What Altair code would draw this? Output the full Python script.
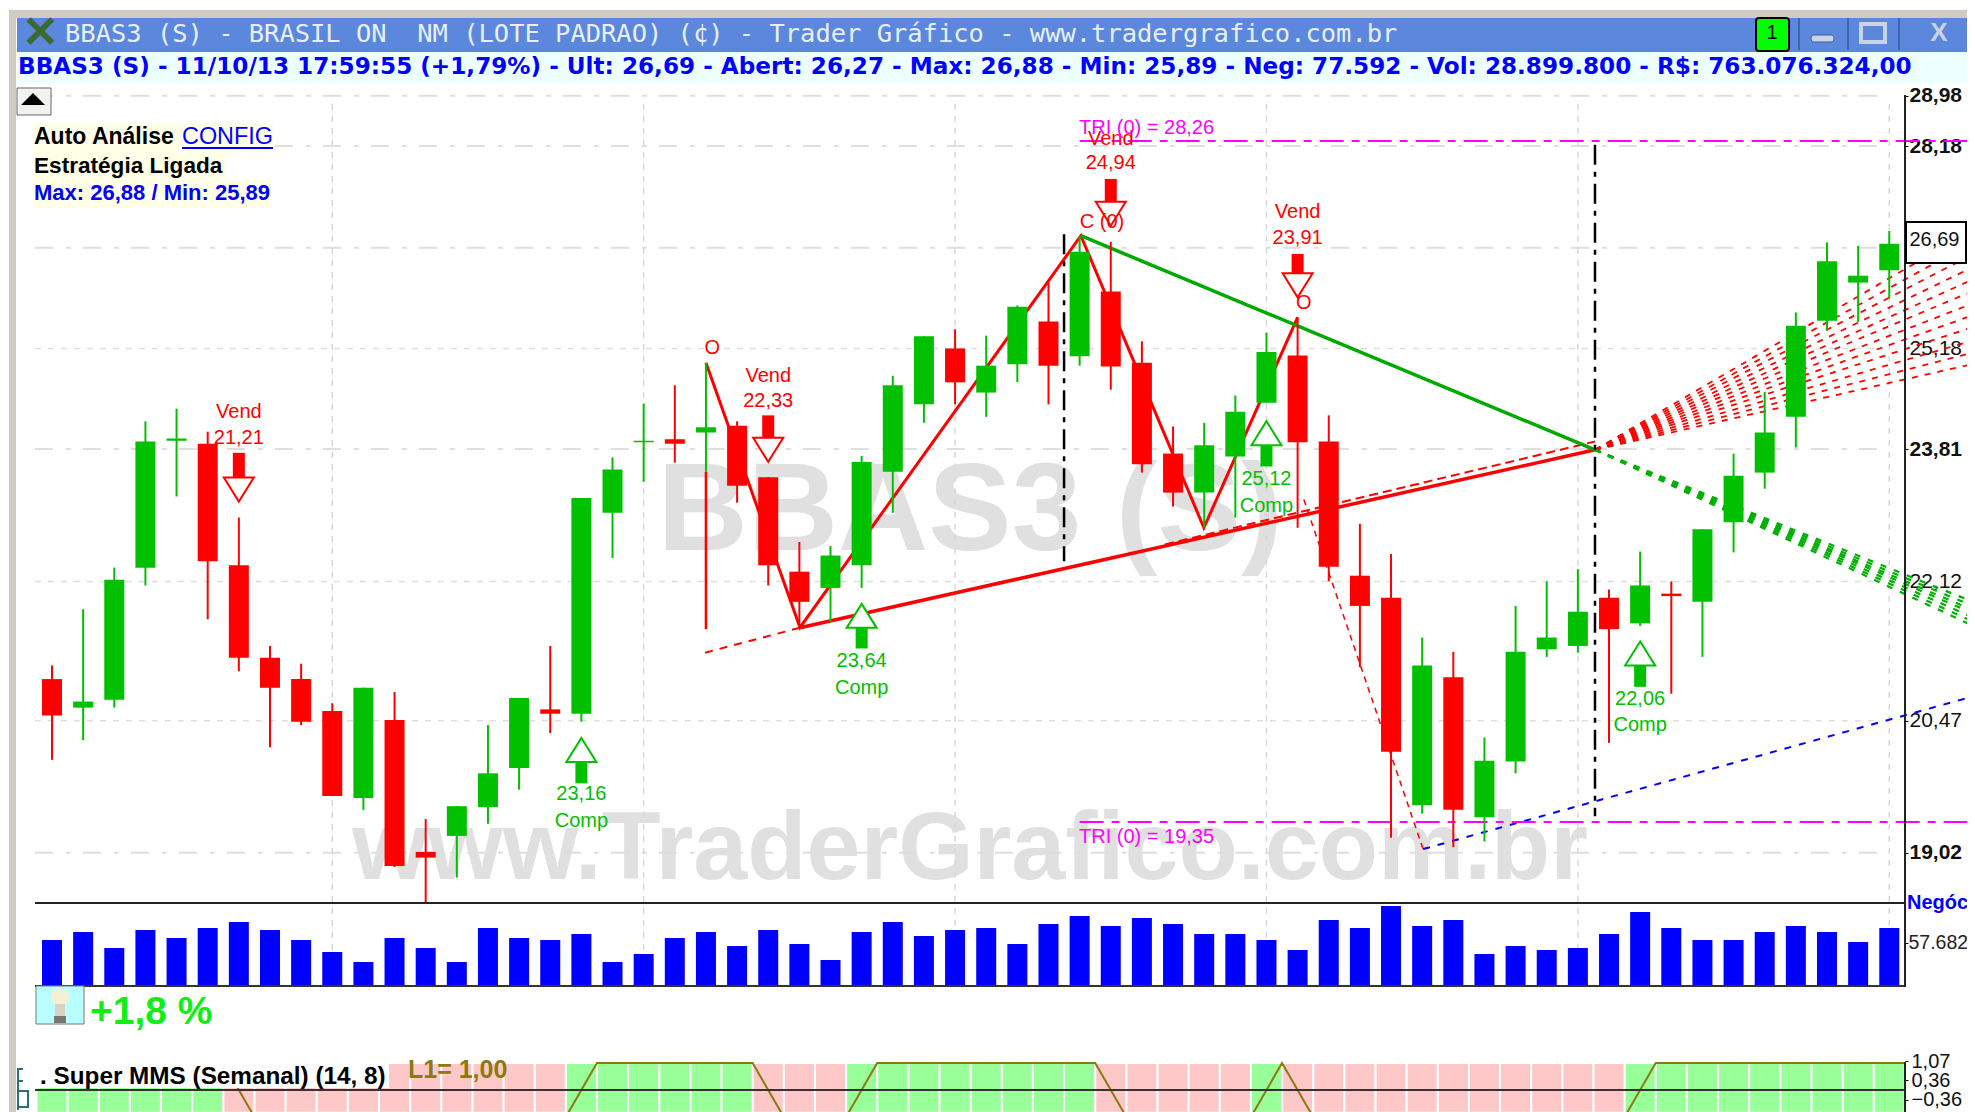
import altair as alt
import pandas as pd

# ---------- data ----------
OPEN = [20.95,20.62,20.71,22.29,23.92,23.88,22.32,21.20,20.95,20.58,19.61,20.48,19.03,19.20,19.51,19.94,20.60,20.55,22.98,23.90,
        23.94,24.03,24.12,23.44,22.24,22.04,22.32,23.51,24.41,25.18,24.57,24.96,25.56,25.07,25.99,24.98,23.75,23.24,23.71,24.43,
        25.08,23.91,22.19,21.92,19.53,20.97,19.40,20.01,21.30,21.34,21.92,21.61,21.97,21.87,22.86,23.50,24.24,25.57,26.12,26.30]
HIGH = [21.11,21.78,22.29,24.18,24.35,24.04,22.92,21.34,21.13,20.67,20.85,20.80,19.38,19.52,20.42,20.73,21.34,23.17,23.70,24.42,
        24.67,24.98,24.18,23.44,22.61,22.56,23.72,24.80,25.35,25.45,25.36,25.79,26.12,26.80,26.72,25.28,24.11,24.16,24.53,25.40,
        25.62,24.26,22.84,22.46,21.44,21.27,20.28,21.82,22.12,22.27,22.02,22.49,22.12,22.77,23.75,24.58,25.69,26.71,26.66,26.88]
LOW  = [20.03,20.25,20.62,22.07,23.19,21.66,21.04,20.17,20.42,19.63,19.48,18.87,18.49,18.76,19.33,19.70,20.33,20.46,22.41,23.38,
        23.63,23.51,23.11,22.07,21.56,21.62,22.04,22.98,24.16,24.41,24.24,24.71,24.41,24.94,24.61,23.50,23.06,22.79,22.92,24.43,
        22.79,22.12,21.09,19.18,19.44,19.08,19.14,19.88,21.21,21.26,20.22,21.58,20.78,21.21,22.48,23.29,23.83,25.43,25.55,25.89]
CLOSE= [20.53,20.69,22.14,23.91,23.95,22.37,21.20,20.85,20.46,19.63,20.85,18.88,18.97,19.52,19.88,20.73,20.55,23.17,23.54,23.92,
        23.88,24.10,23.33,22.32,21.87,22.44,23.64,24.67,25.35,24.71,24.94,25.77,24.94,26.57,24.93,23.61,23.24,23.86,24.31,25.13,
        23.90,22.30,21.82,20.12,21.11,19.48,20.02,21.27,21.44,21.75,21.54,22.07,21.94,22.77,23.46,24.03,25.50,26.43,26.22,26.69]
TRADES = [61700,72400,51000,75100,64400,77800,85800,75100,61700,45600,32200,64400,51000,32200,77800,64400,61700,69700,32200,42900,
          64400,72400,53600,75100,56300,34900,72400,85800,67000,75100,77800,56300,83100,93900,80500,91200,83100,69700,69700,61700,48300,
          88500,77800,107300,80500,88500,42900,53600,48300,51000,69700,99200,77800,61700,61700,72400,80500,72400,59000,77800]
SUPER_MMS = [1,1,1,1,1,1,-1,-1,-1,-1,-1,-1,-1,-1,-1,-1,-1,1,1,1,1,1,1,-1,-1,-1,1,1,1,1,1,1,1,1,-1,-1,-1,-1,-1,1,
             -1,-1,-1,-1,-1,-1,-1,-1,-1,-1,-1,1,1,1,1,1,1,1,1,1]
DATE_IDX = [9,19,29,39,49,59]
DATE_LABELS = ["22/10/12","02/01/13","11/03/13","20/05/13","29/07/13","07/10/13"]
PRICE_MAJOR = [28.98,28.18,26.63,23.81,19.02]
PRICE_MINOR = [25.18,22.12,20.47]
PRICE_TICKS = [28.98,28.18,26.63,25.18,23.81,22.12,20.47,19.02]
BOLD_TICKS = [28.98,28.18,23.81,19.02]
MMS_TICKS = [1.07,0.36,-0.36,-1.07]
TRADES_TICK = [57682]

ZIG_X = [21.0,24.02,33.04,36.99,40.0]
ZIG_Y = [24.98,21.56,26.81,22.79,25.62]
SUPPORT_X = [24.05,49.55]; SUPPORT_Y = [21.56,23.80]
SUP_EXT_X = [20.97,24.05]; SUP_EXT_Y = [21.26,21.56]
UPPER_X = [35.74,49.55]; UPPER_Y = [22.58,23.91]
RESIST_X = [33.04,49.55]; RESIST_Y = [26.81,23.80]
DROP_X = [40.2,44.03]; DROP_Y = [23.15,19.06]
BLUE_X = [44.03,61.5]; BLUE_Y = [19.06,20.73]
APEX_X, APEX_Y, FAN_END_X = 49.55, 23.80, 61.75
GREEN_FAN = [21.86,21.81,21.76,21.72,21.67,21.62,21.57]
RED_FAN = [26.92,26.73,26.55,26.36,26.18,26.01,25.83,25.66,25.49,25.30,25.13,24.97]
TRI_HI, TRI_LO = 28.26, 19.35

SIGNALS = [  # kind, candle, value text, word y, value y, shaft a, shaft b, triangle y
    ("Vend",6,"21,21",24.30,23.95,23.76,23.44,23.28),
    ("Vend",23,"22,33",24.80,24.46,24.26,23.96,23.80),
    ("Vend",34,"24,94",28.29,27.91,27.67,27.32,27.14),
    ("Vend",40,"23,91",27.16,26.77,26.54,26.22,26.08),
    ("Comp",17,"23,16",19.36,19.65,20.02,19.77,20.14),
    ("Comp",26,"23,64",20.85,21.16,21.57,21.31,21.70),
    ("Comp",39,"25,12",23.07,23.42,23.87,23.58,24.02),
    ("Comp",51,"22,06",20.42,20.72,21.12,20.86,21.25),
]

RED, GREEN, BLUE, MAGENTA = "#ff0000", "#00c000", "#0000ff", "#ff00ff"
SANS = "Liberation Sans"
ONE = pd.DataFrame({"v": [0]})

XS = alt.Scale(domain=[-1.413, 59.505], nice=False, zero=False, padding=0)
YS = alt.Scale(type="log", domain=[16.54, 30.43], nice=False)
VS = alt.Scale(domain=[-158238, 1311498], nice=False, zero=False)
MS = alt.Scale(domain=[-0.5185, 40.07], nice=False, zero=False)

def X(f): return alt.X(f, type="quantitative", scale=XS, axis=None, title=None)
def Y(f, s=YS): return alt.Y(f, type="quantitative", scale=s, axis=None, title=None)

def box(x1, y1, x2, y2, color, **kw):
    return alt.Chart(ONE).mark_rect(color=color, **kw).encode(
        x=alt.value(x1-8), x2=alt.value(x2-8), y=alt.value(y1-8), y2=alt.value(y2-8))

def label(x, y, s, size, color="black", font=SANS, weight="normal", align="left"):
    return alt.Chart(ONE).mark_text(text=s, fontSize=size, color=color, font=font, fontWeight=weight,
                                    align=align, baseline="middle").encode(x=alt.value(x-8), y=alt.value(y-8))

def seg(xs, ys, color, width, dash=None):
    kw = {"strokeDash": dash} if dash else {}
    return alt.Chart(pd.DataFrame({"x": xs, "y": ys})).mark_line(color=color, strokeWidth=width, **kw).encode(
        x=X("x"), y=Y("y"))

def ptext(x, y, s, size, color, align="center"):
    return alt.Chart(pd.DataFrame({"x": [x], "y": [y]})).mark_text(
        text=s, fontSize=size, color=color, font=SANS, align=align, baseline="middle").encode(x=X("x"), y=Y("y"))

L = []
# window chrome
L += [box(9, 10, 1975, 18, "#d0ccc4"), box(9, 10, 16, 1112, "#d0ccc4"),
      box(17, 18, 1975, 52, "#5b88dc"), box(17, 52, 1975, 83, "#eeffff")]

# watermarks
L.append(alt.Chart(pd.DataFrame({"x":[29.48],"y":[22.51]})).mark_text(text="BBAS3 (S)", fontSize=125, font=SANS,
         fontWeight="bold", color="#e0e0e0", baseline="alphabetic", align="center").encode(x=X("x"), y=Y("y")))
L.append(alt.Chart(pd.DataFrame({"x":[29.48],"y":[18.74]})).mark_text(text="www.TraderGrafico.com.br", fontSize=97, font=SANS,
         fontWeight="bold", color="#e0e0e0", baseline="alphabetic", align="center").encode(x=X("x"), y=Y("y")))

# grid
L.append(alt.Chart(pd.DataFrame({"a":[-0.55]*5,"b":[58.7]*5,"y":PRICE_MAJOR})).mark_rule(color="#dedede", strokeWidth=2,
         strokeDash=[18,13,5,12]).encode(x=X("a"), x2="b:Q", y=Y("y")))
L.append(alt.Chart(pd.DataFrame({"a":[-0.55]*3,"b":[58.7]*3,"y":PRICE_MINOR})).mark_rule(color="#dedede", strokeWidth=1.5,
         strokeDash=[6,7]).encode(x=X("a"), x2="b:Q", y=Y("y")))
L.append(alt.Chart(pd.DataFrame({"x":DATE_IDX,"a":[28.85]*6,"b":[17.67]*6})).mark_rule(color="#d8d8d8", strokeWidth=1.5,
         strokeDash=[6,6]).encode(x=X("x"), y=Y("a"), y2="b:Q"))

# price axis carrier
fmt = "replace(format(datum.value,'.2f'),'.',',')"
bold_test = "indexof(" + str(BOLD_TICKS) + ",datum.value)>=0"
L.append(alt.Chart(pd.DataFrame({"y":PRICE_TICKS})).mark_tick(opacity=0).encode(
    y=alt.Y("y:Q", scale=YS, title=None, axis=alt.Axis(orient="right", values=PRICE_TICKS, domain=False, grid=False,
        tickSize=3, tickColor="black", labelExpr="datum.value==26.63?'':"+fmt, labelFontSize=21, labelFont=SANS,
        labelColor="#111111", labelPadding=1, labelOverlap=False, labelFlush=False,
        labelFontWeight={"condition":{"test":bold_test,"value":"bold"},"value":"normal"}))))

# trend and projection lines
for end in RED_FAN:
    L.append(seg([APEX_X, FAN_END_X],[APEX_Y,end],RED,1.8,[6,7]))
for end in GREEN_FAN:
    L.append(seg([APEX_X, FAN_END_X],[APEX_Y,end],"#00b000",2.2,[6,8]))
L.append(seg(BLUE_X,BLUE_Y,BLUE,2,[7,8]))
L.append(seg(DROP_X,DROP_Y,RED,1.5,[6,5]))
L.append(seg(SUP_EXT_X,SUP_EXT_Y,RED,2,[8,7]))
L.append(seg(UPPER_X,UPPER_Y,RED,2,[9,5]))
L.append(seg([33,FAN_END_X],[TRI_HI,TRI_HI],MAGENTA,2,[24,8,8,8]))
L.append(seg([33,FAN_END_X],[TRI_LO,TRI_LO],MAGENTA,2,[24,8,8,8]))
L.append(seg(ZIG_X,ZIG_Y,RED,3))
L.append(seg(SUPPORT_X,SUPPORT_Y,RED,3.5))
L.append(seg(RESIST_X,RESIST_Y,"#00a800",3.5))
L.append(alt.Chart(pd.DataFrame({"x":[32.5,49.55],"a":[26.83,28.2],"b":[22.37,19.41]})).mark_rule(color="black", strokeWidth=2.5,
         strokeDash=[20,7,5,7]).encode(x=X("x"), y=Y("a"), y2="b:Q"))
L.append(alt.Chart(pd.DataFrame({"x":[21],"a":[23.51],"b":[21.54]})).mark_rule(color=RED, strokeWidth=2.5).encode(
         x=X("x"), y=Y("a"), y2="b:Q"))

# candles
cd = pd.DataFrame({"i":range(60),"o":OPEN,"h":HIGH,"l":LOW,"c":CLOSE})
cd["dir"] = ["up" if c>=o else "down" for o,c in zip(OPEN,CLOSE)]
cs = alt.Scale(domain=["up","down"], range=[GREEN,RED])
L.append(alt.Chart(cd).mark_rule(strokeWidth=2).encode(x=X("i"), y=Y("h"), y2="l:Q",
         color=alt.Color("dir:N", scale=cs, legend=None)))
L.append(alt.Chart(cd).mark_bar(size=20, orient="vertical").encode(x=X("i"), y=Y("o"), y2="c:Q",
         color=alt.Color("dir:N", scale=cs, legend=None)))

# signals
DOWN_TRI = "M-1,-0.8L1,-0.8L0,0.8Z"
UP_TRI = "M0,-0.8L1,0.8L-1,0.8Z"
for kind,i,val,wy,vy,sa,sb,ty in SIGNALS:
    col = RED if kind=="Vend" else "#00c000"
    d = pd.DataFrame({"x":[i],"a":[sa],"b":[sb],"t":[ty]})
    L.append(alt.Chart(d).mark_bar(size=12, color=col, orient="vertical").encode(x=X("x"), y=Y("a"), y2="b:Q"))
    L.append(alt.Chart(d).mark_point(shape=DOWN_TRI if kind=="Vend" else UP_TRI, size=900, filled=True, fill="white",
             stroke=col, strokeWidth=2, opacity=1).encode(x=X("x"), y=Y("t")))
    L.append(ptext(i, wy, kind, 20, col))
    L.append(ptext(i, vy, val, 20, col))
L.append(ptext(21.2, 25.18, "O", 20, RED))
L.append(ptext(33.72, 27.01, "C (0)", 20, RED))
L.append(ptext(40.2, 25.82, "O", 20, RED))
L.append(ptext(32.98, 28.47, "TRI (0) = 28,26", 20, MAGENTA, "left"))
L.append(ptext(32.98, 19.19, "TRI (0) = 19,35", 20, MAGENTA, "left"))

# volume panel
vd = pd.DataFrame({"i":range(60),"v":TRADES,"z":[0]*60})
L.append(alt.Chart(vd).mark_bar(size=20, color=BLUE, orient="vertical").encode(x=X("i"), y=Y("v",VS), y2="z:Q"))
L.append(alt.Chart(pd.DataFrame({"y":TRADES_TICK})).mark_tick(opacity=0).encode(
    y=alt.Y("y:Q", scale=VS, title=None, axis=alt.Axis(orient="right", values=TRADES_TICK, domain=False, grid=False,
        tickSize=3, tickColor="black", labelExpr="'57.682'", labelFontSize=19.5, labelFont=SANS, labelColor="#222222",
        labelPadding=0, labelOverlap=False, labelFlush=False))))
L.append(box(35, 902, 1905, 904, "#222222"))
L.append(box(35, 985, 1905, 987, "#333333"))
L.append(box(1904, 95, 1906, 987, "#222222"))
# date axis
L.append(alt.Chart(pd.DataFrame({"x":DATE_IDX})).mark_tick(opacity=0).encode(
    x=alt.X("x:Q", scale=XS, title=None, axis=alt.Axis(orient="bottom", offset=-118, values=DATE_IDX, domain=False, grid=False,
        tickSize=5, tickColor="black", tickWidth=2, labelFontSize=21, labelFont=SANS, labelColor="#222222", labelPadding=3,
        labelOverlap=False, labelFlush=False,
        labelExpr=str(DATE_LABELS)+"[(datum.value-9)/10]"))))

# indicator panel
md = pd.DataFrame({"i":range(60),"s":SUPER_MMS,"t":[0.96]*60,"b":[-0.81]*60})
md["x"] = md["i"]+0.5
ms = alt.Scale(domain=[1,-1], range=["#99ff99","#ffc8c8"])
L.append(alt.Chart(md).mark_bar(size=29, orient="vertical").encode(x=X("i"), y=Y("t",MS), y2="b:Q",
         color=alt.Color("s:N", scale=ms, legend=None)))
L.append(alt.Chart(md).mark_line(color="#8a7a10", strokeWidth=2).encode(x=X("x"), y=Y("s",MS)))
L.append(alt.Chart(pd.DataFrame({"y":MMS_TICKS})).mark_tick(opacity=0).encode(
    y=alt.Y("y:Q", scale=MS, title=None, axis=alt.Axis(orient="right", values=MMS_TICKS, domain=False, grid=False,
        tickSize=3, tickColor="black", labelExpr=fmt, labelFontSize=20, labelFont=SANS, labelColor="#111111",
        labelPadding=3, labelOverlap=False, labelFlush=False))))
L.append(box(36, 1058, 389, 1088, "white"))
L.append(box(35, 1089, 1905, 1091, "#333333"))
L.append(box(1904, 1062, 1906, 1112, "#222222"))
L.append(label(40, 1077, ". Super MMS (Semanal) (14, 8)", 24.3, "black", weight="bold"))
L.append(label(408, 1070, "L1= 1,00", 25, "#8a7a10", weight="bold"))
for a in [(17,1068,19,1110),(17,1068,23,1070),(17,1080,23,1082),(17,1090,29,1092),(27,1090,29,1108),(17,1106,29,1108)]:
    L.append(box(*a, "#2f6f6f"))

# title bar
L.append(label(40, 34, "✕", 44, "#3a6a30", weight="bold", align="center"))
L.append(label(65, 34, "BBAS3 (S) - BRASIL ON\u00a0 NM (LOTE PADRAO) (¢) - Trader Gráfico - www.tradergrafico.com.br", 25.45,
               "#e8f0ff", font="DejaVu Sans Mono"))
L.append(label(18, 67, "BBAS3 (S) - 11/10/13 17:59:55 (+1,79%) - Ult: 26,69 - Abert: 26,27 - Max: 26,88 - Min: 25,89 - Neg: 77.592 - Vol: 28.899.800 - R$: 763.076.324,00",
               23.15, BLUE, font="DejaVu Sans", weight="bold"))
L.append(box(1756, 18, 1789, 51, "#00ff00", stroke="black", strokeWidth=2, cornerRadius=3))
L.append(label(1772, 33, "1", 20, "black", align="center"))
for x in [1798,1847,1898]:
    L.append(box(x, 18, x+2, 50, "#3d66b0"))
L.append(box(1811, 35, 1834, 42, "#c8d4e8", stroke="#3d5f9c", cornerRadius=3))
L.append(box(1861, 24, 1885, 42, "#5b88dc", stroke="#c8d4e8", strokeWidth=4))
L.append(label(1939, 33, "X", 26, "#c8d4e8", weight="bold", align="center"))

# top-left block
L.append(box(17, 88, 51, 115, "#f2f2f0", stroke="#666666"))
L.append(alt.Chart(ONE).mark_point(shape="M0,-0.5L1,0.5L-1,0.5Z", size=576, filled=True, color="black", opacity=1).encode(
    x=alt.value(33-8), y=alt.value(99-8)))
L += [box(34,123,273,153,"#ffffe8"), box(34,153,225,180,"#ffffe8"), box(34,180,271,208,"#ffffe8")]
L.append(label(34, 137, "Auto Análise", 23, "black", weight="bold"))
L.append(label(182, 137, "CONFIG", 23.4, BLUE))
L.append(box(182, 147, 273, 149, BLUE))
L.append(label(34, 166, "Estratégia Ligada", 22.6, "black", weight="bold"))
L.append(label(34, 193, "Max: 26,88 / Min: 25,89", 22, BLUE, weight="bold"))

# last price box
L.append(box(1906, 222, 1966, 263, "white", stroke="black", strokeWidth=2))
L.append(ptext(60.45, 26.75, "26,69", 20, "#111111"))
L.append(label(1907, 903, "Negóc", 20, BLUE, weight="bold"))

# bulb and percentage
L.append(box(36, 986, 84, 1024, "#b8ffff", stroke="#777777"))
L.append(alt.Chart(ONE).mark_point(shape="circle", size=320, filled=True, color="#f4f0d8", opacity=1).encode(
    x=alt.value(60-8), y=alt.value(997-8)))
L.append(box(55, 1004, 65, 1016, "#d8d4c0"))
L.append(box(54, 1016, 66, 1023, "#777770"))
L.append(label(90, 1012, "+1,8 %", 39, "#11ee11", weight="bold"))

chart = alt.layer(*L).resolve_scale(y="independent", color="independent").properties(
    width=1897, height=1096, autosize=alt.AutoSizeParams(type="none"),
    padding={"left":0,"top":0,"right":62,"bottom":8}, background="white"
).configure_view(stroke=None)

chart.save("out.html", embed_options={"renderer": "svg", "actions": False})
